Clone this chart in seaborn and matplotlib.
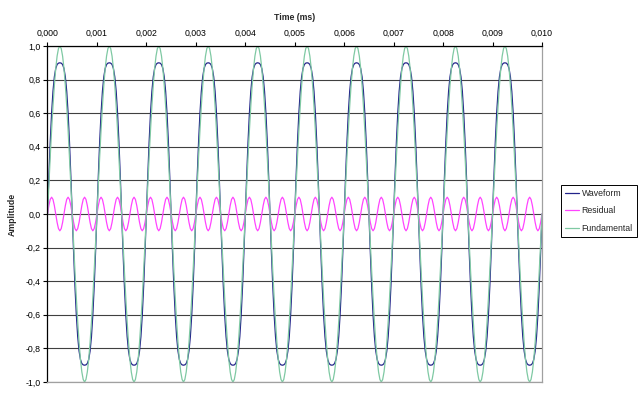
import numpy as np
import pandas as pd
import matplotlib
matplotlib.use("Agg")
import matplotlib.pyplot as plt
import seaborn as sns

# ------------------------------------------------------------
# Data: one period of each series
# (36 samples per period, 10 identical periods over 0.010 ms)
# ------------------------------------------------------------
fundamental_period = [0.000, 0.174, 0.342, 0.500, 0.643, 0.766, 0.866, 0.940, 0.985,
                      1.000, 0.985, 0.940, 0.866, 0.766, 0.643, 0.500, 0.342, 0.174,
                      0.000, -0.174, -0.342, -0.500, -0.643, -0.766, -0.866, -0.940, -0.985,
                      -1.000, -0.985, -0.940, -0.866, -0.766, -0.643, -0.500, -0.342, -0.174]
residual_period = [0.000, 0.050, 0.087, 0.100, 0.087, 0.050, 0.000, -0.050, -0.087,
                   -0.100, -0.087, -0.050, 0.000, 0.050, 0.087, 0.100, 0.087, 0.050,
                   0.000, -0.050, -0.087, -0.100, -0.087, -0.050, 0.000, 0.050, 0.087,
                   0.100, 0.087, 0.050, 0.000, -0.050, -0.087, -0.100, -0.087, -0.050]
waveform_period = [0.000, 0.224, 0.429, 0.600, 0.730, 0.816, 0.866, 0.890, 0.898,
                   0.900, 0.898, 0.890, 0.866, 0.816, 0.730, 0.600, 0.429, 0.224,
                   0.000, -0.224, -0.429, -0.600, -0.730, -0.816, -0.866, -0.890, -0.898,
                   -0.900, -0.898, -0.890, -0.866, -0.816, -0.730, -0.600, -0.429, -0.224]
n_periods = 10
period_ms = 0.001

series_names = ["Waveform", "Residual", "Fundamental"]
series_colors = ["#22238a", "#ff44ff", "#7fc9a3"]

x_ticks = [0.000, 0.001, 0.002, 0.003, 0.004, 0.005, 0.006, 0.007, 0.008, 0.009, 0.010]
x_tick_labels = ["0,000", "0,001", "0,002", "0,003", "0,004", "0,005",
                 "0,006", "0,007", "0,008", "0,009", "0,010"]
y_ticks = [-1.0, -0.8, -0.6, -0.4, -0.2, 0.0, 0.2, 0.4, 0.6, 0.8, 1.0]
y_tick_labels = ["-1,0", "-0,8", "-0,6", "-0,4", "-0,2", "0,0",
                 "0,2", "0,4", "0,6", "0,8", "1,0"]

# build long table
n_per = len(fundamental_period)
time = np.arange(n_per * n_periods + 1) * (period_ms / n_per)
values = {
    "Waveform": waveform_period,
    "Residual": residual_period,
    "Fundamental": fundamental_period,
}
frames = []
for name in series_names:
    v = np.tile(values[name], n_periods)
    v = np.append(v, values[name][0])
    frames.append(pd.DataFrame({"Time": time, "Amplitude": v, "Series": name}))
df = pd.concat(frames, ignore_index=True)

# ------------------------------------------------------------
# Plot
# ------------------------------------------------------------
sns.set_theme(style="white")
plt.rcParams["font.family"] = ["Liberation Sans", "DejaVu Sans"]

fig = plt.figure(figsize=(6.4, 3.99), dpi=100)
ax = fig.add_axes([0.0742, 0.0426, 0.7727, 0.8421])

sns.lineplot(data=df, x="Time", y="Amplitude", hue="Series",
             hue_order=series_names, palette=dict(zip(series_names, series_colors)),
             estimator=None, sort=False, linewidth=0.9, ax=ax)

ax.set_xlim(0, 0.010)
ax.set_ylim(-1.0, 1.0)
ax.xaxis.tick_top()
ax.xaxis.set_label_position("top")
ax.set_xticks(x_ticks)
ax.set_xticklabels(x_tick_labels)
ax.set_yticks(y_ticks)
ax.set_yticklabels(y_tick_labels)
ax.tick_params(axis="x", direction="out", length=3, width=0.8, pad=3,
               labelsize=6.3, colors="black", top=True, bottom=False)
ax.tick_params(axis="y", direction="out", length=3, width=0.8, pad=2,
               labelsize=6.3, colors="black", left=True)
ax.set_xlabel("Time (ms)", fontsize=6.3, fontweight="bold", labelpad=6)
ax.set_ylabel("Amplitude", fontsize=6.3, fontweight="bold", labelpad=6)

ax.yaxis.grid(True, color="#404040", linewidth=0.8)
ax.xaxis.grid(False)
ax.set_axisbelow(True)

for side in ["top", "left"]:
    ax.spines[side].set_color("black")
    ax.spines[side].set_linewidth(0.9)
for side in ["right", "bottom"]:
    ax.spines[side].set_color("#a0a0a0")
    ax.spines[side].set_linewidth(0.9)

handles, labels = ax.get_legend_handles_labels()
ax.legend(handles, labels, loc="upper left", bbox_to_anchor=(0.876, 0.537),
          bbox_transform=fig.transFigure, fontsize=6.3, frameon=True,
          fancybox=False, edgecolor="black", framealpha=1, borderpad=0.45,
          handlelength=1.7, handletextpad=0.25, labelspacing=1.0, borderaxespad=0)
ax.get_legend().get_frame().set_linewidth(0.7)

fig.savefig("out.png", dpi=100)
